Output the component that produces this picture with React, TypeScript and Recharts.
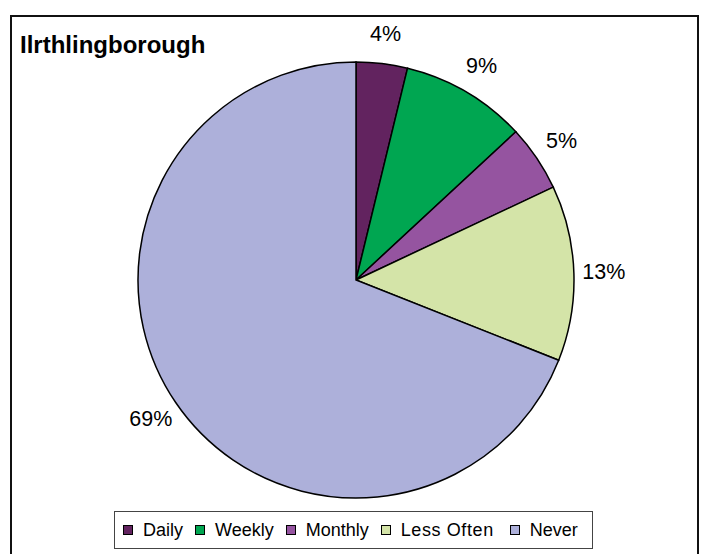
import React from 'react';
import { PieChart, Pie, Cell, Legend } from 'recharts';

const categories = ['Daily', 'Weekly', 'Monthly', 'Less Often', 'Never'];
const values = [3.8, 9.3, 4.9, 13.0, 69.0];
const colors = ['#62235F', '#00A651', '#9554A0', '#D4E4A8', '#ADB0DA'];
const title = 'Ilrthlingborough';

const data = categories.map((name, i) => ({ name, value: values[i] }));

const RAD = Math.PI / 180;
const FONT = '"Liberation Sans", Arial, Helvetica, sans-serif';

const renderLabel = (props: any) => {
  const { cx, cy, midAngle, outerRadius, percent } = props;
  const r = outerRadius + 30;
  const x = cx + r * Math.cos(-midAngle * RAD);
  const y = cy + r * Math.sin(-midAngle * RAD);
  return (
    <text x={x} y={y} textAnchor="middle" dominantBaseline="central" fontSize={21.5} fill="#000" fontFamily={FONT}>
      {`${Math.round(percent * 100)}%`}
    </text>
  );
};

const renderLegend = () => {
  return (
    <div
      style={{
        width: '100%',
        height: '100%',
        boxSizing: 'border-box',
        border: '1px solid #444',
        display: 'flex',
        alignItems: 'center',
        paddingLeft: 8,
        fontFamily: FONT,
        fontSize: 18,
        color: '#000',
        background: '#fff',
      }}
    >
      {categories.map((name, i) => (
        <div key={name} style={{ display: 'flex', alignItems: 'center', marginRight: i === 3 ? 16 : 12 }}>
          <span
            style={{
              display: 'inline-block',
              width: 10,
              height: 10,
              boxSizing: 'border-box',
              border: '1px solid #000',
              background: colors[i],
              marginRight: 10,
            }}
          />
          <span style={{ whiteSpace: 'nowrap', letterSpacing: i === 3 ? 0.6 : 0 }}>{name}</span>
        </div>
      ))}
    </div>
  );
};

export default function App() {
  return (
    <div style={{ position: 'absolute', left: 0, top: 0, width: 705, height: 554, overflow: 'hidden', background: '#fff' }}>
      <div
        style={{
          position: 'absolute',
          left: 10,
          top: 15,
          width: 689,
          height: 600,
          boxSizing: 'border-box',
          border: '2px solid #111',
        }}
      />
      <div
        style={{
          position: 'absolute',
          left: 20,
          top: 31,
          fontFamily: FONT,
          fontWeight: 'bold',
          fontSize: 24,
          lineHeight: '27px',
          color: '#000',
        }}
      >
        {title}
      </div>
      <div style={{ position: 'absolute', left: 0, top: 0 }}>
        <PieChart width={705} height={554} margin={{ top: 0, right: 0, bottom: 0, left: 0 }}>
          <Pie
            data={data}
            dataKey="value"
            nameKey="name"
            cx={356}
            cy={280}
            outerRadius={218}
            innerRadius={0}
            startAngle={90}
            endAngle={-270}
            stroke="#000"
            strokeWidth={1.5}
            label={renderLabel}
            labelLine={false}
            isAnimationActive={false}
          >
            {data.map((d, i) => (
              <Cell key={d.name} fill={colors[i]} />
            ))}
          </Pie>
          <Legend
            content={renderLegend}
            wrapperStyle={{ position: 'absolute', left: 114, top: 511, width: 479, height: 38, bottom: 'auto', right: 'auto' }}
          />
        </PieChart>
      </div>
    </div>
  );
}
